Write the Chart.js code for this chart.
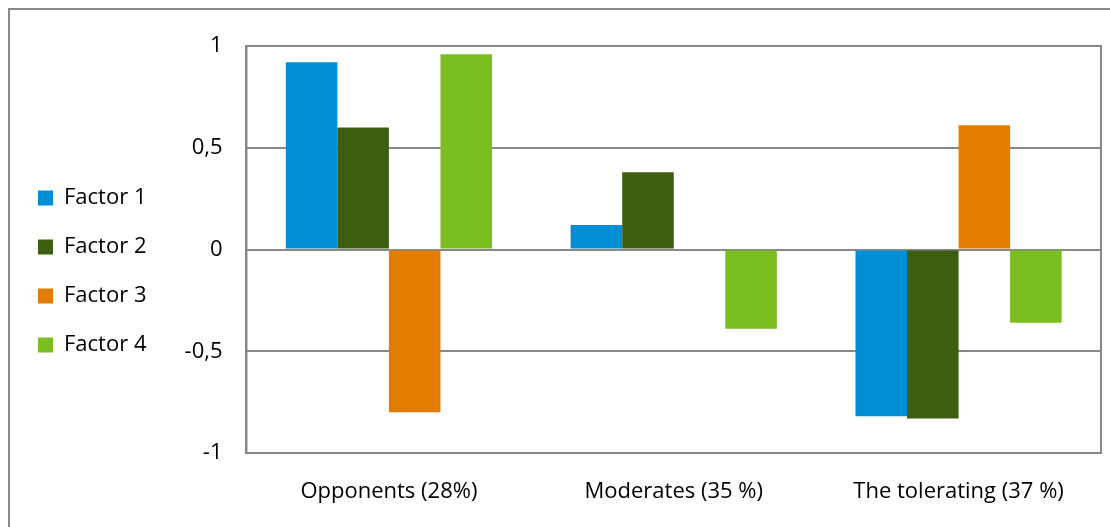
<!DOCTYPE html>
<html>
<head>
<meta charset="utf-8">
<script src="https://cdn.jsdelivr.net/npm/chart.js@4/dist/chart.umd.min.js"></script>
<style>
  html, body { margin: 0; padding: 0; background: #fff; overflow: hidden; }
  #frame { position: absolute; left: 8px; top: 8px; width: 1200px; height: 600px; border: 2px solid #888; }
  #wrap { position: absolute; left: 0; top: 0; width: 1110px; height: 527px; }
</style>
</head>
<body>
<div id="frame"></div>
<div id="wrap"><canvas id="myBarChart"></canvas></div>
<script>
// groups along the x axis
var categories = ['Opponents (28%)', 'Moderates (35 %)', 'The tolerating (37 %)'];

// one array per factor
var factor1 = [0.92, 0.12, -0.82];
var factor2 = [0.60, 0.38, -0.83];
var factor3 = [-0.80, 0.005, 0.61];
var factor4 = [0.96, -0.39, -0.36];

var seriesNames = ['Factor 1', 'Factor 2', 'Factor 3', 'Factor 4'];
var seriesColors = ['#008ed4', '#3d5e10', '#e27d00', '#7abe20'];

var FONT = { family: 'Open Sans', size: 22 };

// draws the grey box round the plot area
var plotBorder = {
  id: 'plotBorder',
  afterDraw: function (chart) {
    var a = chart.chartArea;
    var c = chart.ctx;
    c.save();
    c.strokeStyle = '#888';
    c.lineWidth = 2;
    c.strokeRect(a.left, a.top, a.right - a.left, a.bottom - a.top);
    c.restore();
  }
};

// legend sits a bit higher than centred in the original
var legendNudge = {
  id: 'legendNudge',
  afterLayout: function (chart) {
    chart.legend.top -= 15;
    chart.legend.bottom -= 15;
  }
};

var ctx = document.getElementById('myBarChart').getContext('2d');
var values = [factor1, factor2, factor3, factor4];

var myBarChart = new Chart(ctx, {
  type: 'bar',
  data: {
    labels: categories,
    datasets: seriesNames.map(function (name, i) {
      return {
        label: name,
        data: values[i],
        backgroundColor: seriesColors[i],
        borderWidth: 0,
        categoryPercentage: 0.724,
        barPercentage: 1
      };
    })
  },
  options: {
    responsive: true,
    maintainAspectRatio: false,
    animation: false,
    layout: {
      padding: { left: 11, right: 9, top: 46, bottom: 0 }
    },
    plugins: {
      legend: {
        position: 'left',
        labels: {
          boxWidth: 15,
          boxHeight: 15,
          padding: 27,
          color: '#000',
          font: FONT
        }
      },
      tooltip: { enabled: false }
    },
    scales: {
      x: {
        afterFit: function (scale) {
          scale.height = 74;
        },
        grid: { display: false, drawTicks: false },
        border: { display: true, color: '#888', width: 2 },
        ticks: {
          color: '#000',
          padding: 26,
          font: FONT
        }
      },
      y: {
        min: -1,
        max: 1,
        afterFit: function (scale) {
          scale.width = 90;
        },
        grid: { color: '#888', lineWidth: 2, drawTicks: false },
        border: { display: true, color: '#888', width: 2 },
        ticks: {
          stepSize: 0.5,
          color: '#000',
          padding: 24,
          font: FONT,
          callback: function (v) { return String(v).replace('.', ','); }
        }
      }
    }
  },
  plugins: [plotBorder, legendNudge]
});
</script>
</body>
</html>
